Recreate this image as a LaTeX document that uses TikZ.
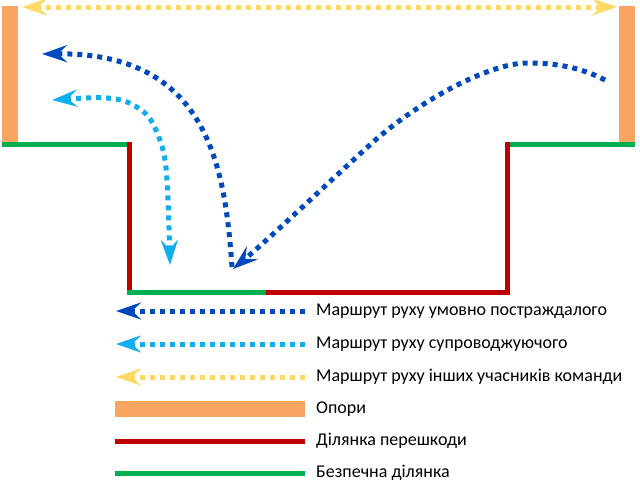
\documentclass[tikz,border=0pt]{standalone}
\usepackage{fontspec}
\setmainfont{Carlito}
\usetikzlibrary{positioning,arrows.meta}

\definecolor{victim}{RGB}{0,72,190}
\definecolor{escort}{RGB}{16,174,239}
\definecolor{team}{RGB}{255,217,102}
\definecolor{support}{RGB}{250,164,98}
\definecolor{hazard}{RGB}{192,0,0}
\definecolor{safe}{RGB}{0,176,80}

\begin{document}
\begin{tikzpicture}[x=1pt,y=1pt]
    \useasboundingbox (0,0) rectangle (640,-482);
    \tikzstyle{route}=[line width=5,dash pattern=on 5 off 5,-{Stealth[length=25,width=17,inset=9]}]
    \tikzstyle{route2}=[route,{Stealth[length=25,width=17,inset=9]}-{Stealth[length=25,width=17,inset=9]}]
    \tikzstyle{pole}=[draw=none,fill=support]
    \tikzstyle{edgeline}=[line width=5]
    \tikzstyle{label}=[anchor=west,inner sep=0,font=\fontsize{18}{21}\selectfont]
    {
        % supports
        \fill[pole] (2,-6) rectangle (18,-142);
        \fill[pole] (619,-6) rectangle (635,-142);

        % ground and pit
        \coordinate (tl) at (2,-144.5);
        \coordinate (bl) at (129.5,-292.5);
        \coordinate (bm) at (266,-292.5);
        \coordinate (br) at (507.5,-292.5);
        \coordinate (tr) at (635,-144.5);
        \draw[edgeline,safe] (tl) -- (127,-144.5);
        \draw[edgeline,hazard] (129.5,-142) -- (bl);
        \draw[edgeline,safe] (127,-292.5) -- (bm);
        \draw[edgeline,hazard] (bm) -- (510,-292.5);
        \draw[edgeline,hazard] (507.5,-142) -- (br);
        \draw[edgeline,safe] (510,-144.5) -- (tr);

        % routes
        \coordinate (ya) at (22,-7);
        \coordinate (yb) at (617,-7);
        \coordinate (v0) at (605,-80);
        \coordinate (vtop) at (527,-63);
        \coordinate (vmid) at (372,-143);
        \coordinate (vlow) at (233,-269);
        \coordinate (vend) at (42,-54);
        \coordinate (s0) at (52,-100);
        \coordinate (s1) at (170,-265);
        \draw[route2,team] (ya) -- (yb);
        \draw[route,victim] (v0) .. controls (580,-67) and (555,-63) .. (vtop)
            .. controls (490,-63) and (420,-100) .. (vmid)
            .. controls (330,-181) and (270,-238) .. (vlow);
        \draw[route,victim] (232,-267) .. controls (225,-170) and (210,-52) .. (vend);
        \draw[route2,escort] plot[smooth,tension=0.6] coordinates {(s0) (85,-98) (107,-98) (127,-102) (147,-115) (158,-135) (165,-160) (168,-200) (s1)};

        % legend
        \node[label] (l1) at (316,-311) {Маршрут руху умовно постраждалого};
        \node[label] (l2) at (316,-344) {Маршрут руху супроводжуючого};
        \node[label] (l3) at (316,-377) {Маршрут руху інших учасників команди};
        \node[label] (l4) at (316,-409) {Опори};
        \node[label] (l5) at (316,-441) {Ділянка перешкоди};
        \node[label] (l6) at (316,-473) {Безпечна ділянка};
        \coordinate (e1) at (116,-311);
        \coordinate (e2) at (116,-344);
        \coordinate (e3) at (116,-377);
        \draw[route,victim] (l1.west) ++(-11,0) -- (e1);
        \draw[route,escort] (l2.west) ++(-11,0) -- (e2);
        \draw[route,team] (l3.west) ++(-11,0) -- (e3);
        \fill[pole] (115,-401) rectangle (305,-417);
        \draw[edgeline,hazard] (115,-441) -- (305,-441);
        \draw[edgeline,safe] (115,-473) -- (305,-473);
    }
\end{tikzpicture}
\end{document}
